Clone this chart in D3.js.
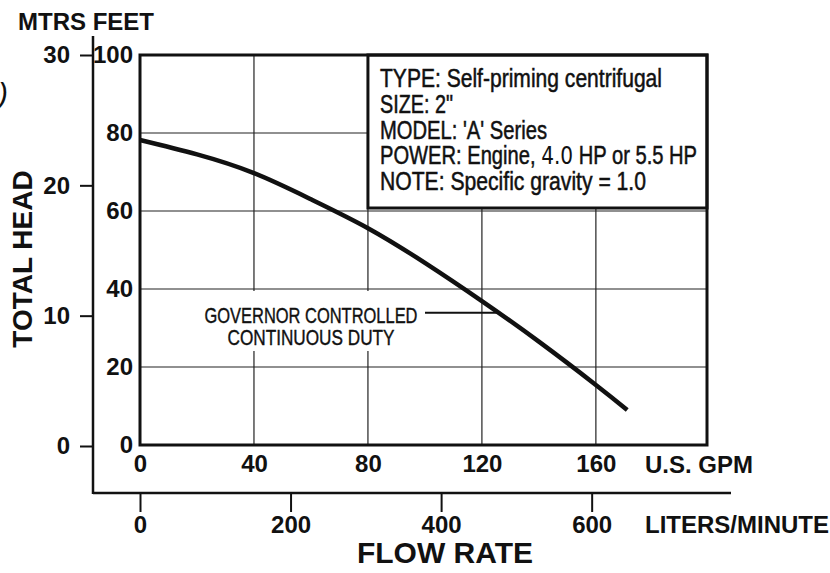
<!DOCTYPE html>
<html>
<head>
<meta charset="utf-8">
<script src="https://cdn.jsdelivr.net/npm/d3@7"></script>
<style>
  body { margin: 0; background: #fff; }
  text { font-family: "Liberation Sans", Arial, sans-serif; fill: #111; }
</style>
</head>
<body>
<script>
// ------------------------------- Data ------------------------------
var flowGpm  = [0, 20, 40, 60, 80, 100, 120, 140, 160, 171];
var headFeet = [78.2, 74.5, 69.7, 63.0, 55.6, 46.7, 36.9, 26.5, 15.4, 9.0];

var gpmTicks   = [0, 40, 80, 120, 160];
var feetTicks  = [0, 20, 40, 60, 80, 100];
var meterTicks = [0, 10, 20, 30];
var literTicks = [0, 200, 400, 600];

var infoLines = [
  ["TYPE: Self-priming centrifugal"],
  ["SIZE: 2\""],
  ["MODEL: 'A' Series"],
  ["POWER: Engine, ", "4.0", " HP or 5.5 HP"],
  ["NOTE: Specific gravity = 1.0"]
];
var infoWidths = [282, 73, 167, 317, 266];

var curveLabel = ["GOVERNOR CONTROLLED", "CONTINUOUS DUTY"];
var curveLabelWidths = [213, 167];
var LITERS_PER_GALLON = 3.785;

// ------------------------------- Layout ------------------------------
var width = 830, height = 573;
// (window.top is read-only, so plot edges get their own names)
var plotLeft = 140, plotRight = 707, plotTop = 55, plotBottom = 445;
var narrowFont = "'Liberation Sans', Arial, sans-serif";

var svg = d3.select("body").append("svg")
  .attr("width", width)
  .attr("height", height);

// scales
var x = d3.scaleLinear().domain([0, 199]).range([plotLeft, plotRight]);
var xLiters = d3.scaleLinear().domain([0, 199 * LITERS_PER_GALLON]).range([plotLeft, plotRight]);
var yFeet = d3.scaleLinear().domain([0, 100]).range([plotBottom, plotTop]);
var yMeters = d3.scaleLinear().domain([0, 30]).range([plotBottom + 1, plotTop]);

// grid lines
var grid = svg.append("g").attr("stroke", "#222").attr("stroke-width", 1.2);
grid.selectAll(".vg").data(gpmTicks.slice(1)).enter().append("line")
  .attr("x1", d => x(d)).attr("x2", d => x(d))
  .attr("y1", plotTop).attr("y2", plotBottom);
grid.selectAll(".hg").data(feetTicks.slice(1, -1)).enter().append("line")
  .attr("x1", plotLeft).attr("x2", plotRight)
  .attr("y1", d => yFeet(d)).attr("y2", d => yFeet(d));

// info box (covers grid)
var boxBottom = 208;
svg.append("rect")
  .attr("x", x(80)).attr("y", plotTop)
  .attr("width", plotRight - x(80)).attr("height", boxBottom - plotTop)
  .attr("fill", "#fff").attr("stroke", "#111").attr("stroke-width", 3);

// condensed look: big glyphs squeezed into the measured line widths
var info = svg.append("g")
  .style("font-family", narrowFont)
  .style("font-size", "25px")
  .attr("stroke", "#111").attr("stroke-width", 0.5);
infoLines.forEach(function(parts, i) {
  var t = info.append("text")
    .attr("x", 380).attr("y", 87 + i * 25.8)
    .attr("textLength", infoWidths[i])
    .attr("lengthAdjust", "spacingAndGlyphs");
  parts.forEach(function(p) {
    var s = t.append("tspan").text(p);
    if (p === "4.0") s.style("font-family", "'DejaVu Sans', sans-serif").attr("stroke-width", 0);
  });
});

// curve label with white background
var labelY = 323;
svg.append("rect")
  .attr("x", 198).attr("y", 291).attr("width", 224).attr("height", 60)
  .attr("fill", "#fff");
var lab = svg.append("g")
  .style("font-family", narrowFont)
  .style("font-size", "22px")
  .attr("stroke", "#111").attr("stroke-width", 0.4);
curveLabel.forEach(function(s, i) {
  lab.append("text")
    .attr("x", 311).attr("y", labelY + i * 22)
    .attr("text-anchor", "middle")
    .attr("textLength", curveLabelWidths[i])
    .attr("lengthAdjust", "spacingAndGlyphs")
    .text(s);
});
svg.append("line")
  .attr("x1", 425).attr("x2", x(126))
  .attr("y1", yFeet(33.9)).attr("y2", yFeet(33.9))
  .attr("stroke", "#111").attr("stroke-width", 2);

// plot border
svg.append("rect")
  .attr("x", plotLeft).attr("y", plotTop)
  .attr("width", plotRight - plotLeft).attr("height", plotBottom - plotTop)
  .attr("fill", "none").attr("stroke", "#111").attr("stroke-width", 3);

// pump curve
var pts = flowGpm.map((g, i) => [g, headFeet[i]]);
svg.append("path")
  .datum(pts)
  .attr("fill", "none").attr("stroke", "#111").attr("stroke-width", 4.5)
  .attr("d", d3.line().x(d => x(d[0])).y(d => yFeet(d[1])).curve(d3.curveNatural));

// ------------------------------- Axes ------------------------------
function styleAxis(g, size) {
  g.select(".domain").remove();
  g.selectAll("line").attr("stroke", "#111").attr("stroke-width", 2);
  g.selectAll("text")
    .style("font-family", "'Liberation Sans', Arial, sans-serif")
    .style("font-size", size + "px").style("font-weight", "bold").attr("fill", "#111");
}

// feet labels
svg.append("g").attr("transform", "translate(" + plotLeft + ",0)")
  .call(d3.axisLeft(yFeet).tickValues(feetTicks).tickSize(0).tickPadding(7))
  .call(g => styleAxis(g, 24));

// gpm labels
svg.append("g").attr("transform", "translate(0," + plotBottom + ")")
  .call(d3.axisBottom(x).tickValues(gpmTicks).tickSize(0).tickPadding(10))
  .call(g => styleAxis(g, 24));

// meters axis
var mAxisX = 93, lAxisY = 493;
svg.append("g").attr("transform", "translate(" + mAxisX + ",0)")
  .call(d3.axisLeft(yMeters).tickValues(meterTicks).tickSize(13).tickPadding(10))
  .call(g => styleAxis(g, 24));
svg.append("line")
  .attr("x1", mAxisX).attr("x2", mAxisX).attr("y1", 36).attr("y2", lAxisY + 1)
  .attr("stroke", "#111").attr("stroke-width", 2.5);

// liters axis
svg.append("g").attr("transform", "translate(0," + lAxisY + ")")
  .call(d3.axisBottom(xLiters).tickValues(literTicks).tickSize(19).tickPadding(4))
  .call(g => styleAxis(g, 24));
svg.append("line")
  .attr("x1", mAxisX).attr("x2", 731).attr("y1", lAxisY).attr("y2", lAxisY)
  .attr("stroke", "#111").attr("stroke-width", 2.5);

// ------------------------------- Titles ------------------------------
var bold = function(sel, size) {
  return sel.style("font-weight", "bold").style("font-size", size + "px");
};
bold(svg.append("text").attr("x", 18).attr("y", 30).text("MTRS FEET"), 24);
bold(svg.append("text").attr("x", 645).attr("y", 473).text("U.S. GPM"), 24);
bold(svg.append("text").attr("x", 645).attr("y", 533).text("LITERS/MINUTE"), 24);
bold(svg.append("text").attr("x", 445).attr("y", 563).attr("text-anchor", "middle").text("FLOW RATE"), 30);
bold(svg.append("text")
  .attr("transform", "translate(32,259) rotate(-90)")
  .attr("text-anchor", "middle").text("TOTAL HEAD"), 28);

// stray mark at left edge of the scan
svg.append("text").attr("x", -2).attr("y", 104)
  .style("font-size", "30px").style("font-style", "italic").style("font-weight", "300")
  .text(")");
</script>
</body>
</html>
